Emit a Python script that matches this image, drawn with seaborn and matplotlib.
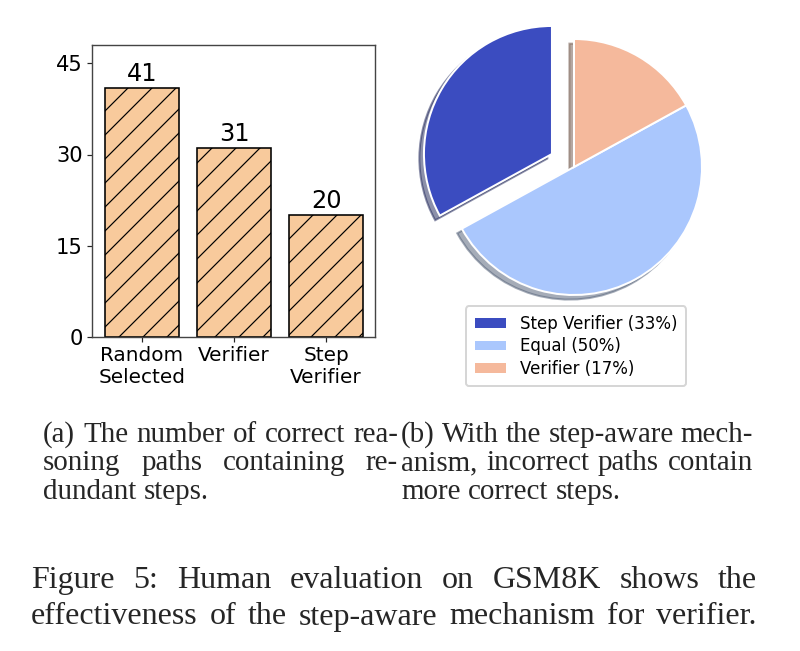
import matplotlib
matplotlib.use('Agg')
import matplotlib.pyplot as plt
import seaborn as sns

# Bar chart data
methods = ['Random\nSelected', 'Verifier', 'Step\nVerifier']
counts = [41, 31, 20]
bar_color = '#f8ca9c'

# Pie chart data
pie_names = ['Step Verifier', 'Equal', 'Verifier']
pie_shares = [33, 50, 17]
pie_colors = ['#3b4cc0', '#aac7fd', '#f5b99c']

# Caption text
cap_a = ['(a) The number of correct rea-', 'soning paths containing re-', 'dundant steps.']
cap_b = ['(b) With the step-aware mech-', 'anism, incorrect paths contain', 'more correct steps.']
cap_fig = ['Figure 5: Human evaluation on GSM8K shows the',
           'effectiveness of the step-aware mechanism for verifier.']

sns.set_style('ticks')
plt.rcParams['hatch.linewidth'] = 0.6
plt.rcParams['font.family'] = ['DejaVu Sans']

W, H, DPI = 800, 651, 144
fig = plt.figure(figsize=(W / DPI, H / DPI), dpi=DPI)
fig.patch.set_facecolor('white')

# (a) bar chart
ax1 = fig.add_axes([92 / W, 1 - 337 / H, 283 / W, 292 / H])
sns.barplot(x=methods, y=counts, color=bar_color, saturation=1,
            edgecolor='black', linewidth=0.8, hatch='//', ax=ax1)
ax1.bar_label(ax1.containers[0], fontsize=12, padding=1, color='black')
ax1.set_ylim(0, 48)
ax1.set_yticks([0, 15, 30, 45])
ax1.set_xlim(-0.54, 2.53)
ax1.tick_params(axis='x', labelsize=10, length=2.5, width=0.6, pad=2, labelcolor='black')
ax1.tick_params(axis='y', labelsize=10.5, length=2.5, width=0.6, pad=2, labelcolor='black')
for s in ax1.spines.values():
    s.set_linewidth(0.7)
    s.set_color('#444444')

# (b) pie chart
R = 128
ax2 = fig.add_axes([(574 - 1.25 * R) / W, 1 - (167 + 1.25 * R) / H, 2.5 * R / W, 2.5 * R / H])
wedges, _ = ax2.pie(pie_shares, colors=pie_colors, explode=[0.2, 0, 0],
                    startangle=90, shadow={'ox': -0.018, 'oy': -0.018, 'shade': 0.55})
ax2.set_xlim(-1.25, 1.25)
ax2.set_ylim(-1.25, 1.25)
ax2.axis('off')
legend_labels = [f'{n} ({s}%)' for n, s in zip(pie_names, pie_shares)]
leg = fig.legend(wedges, legend_labels, loc='upper center', bbox_to_anchor=(576 / W, 1 - 298 / H),
                 fontsize=8.3, frameon=True, handlelength=2.0, labelspacing=0.28,
                 borderpad=0.5)
for t in leg.get_texts():
    t.set_color('black')

# captions, justified like the paper
renderer = fig.canvas.get_renderer()
serif = 'Liberation Serif'


def put_line(line, x0, x1, y, size, justify=True):
    words = line.split(' ')
    texts = [fig.text(0, 1 - y / H, w, fontsize=size, family=serif, va='baseline')
             for w in words]
    widths = [t.get_window_extent(renderer).width for t in texts]
    if justify and len(words) > 1:
        gap = (x1 - x0 - sum(widths)) / (len(words) - 1)
    else:
        gap = 0.25 * size * DPI / 72
    x = x0
    for t, w in zip(texts, widths):
        t.set_x(x / W)
        x += w + gap


for i, line in enumerate(cap_a):
    put_line(line, 43, 398, 442 + 28.3 * i, 14.5, justify=i < len(cap_a) - 1)
for i, line in enumerate(cap_b):
    put_line(line, 401, 753, 442 + 28.3 * i, 14.5, justify=i < len(cap_b) - 1)
for i, line in enumerate(cap_fig):
    put_line(line, 31, 757, 588 + 36.5 * i, 16, justify=True)

fig.savefig('out.png', dpi=DPI, facecolor='white')
